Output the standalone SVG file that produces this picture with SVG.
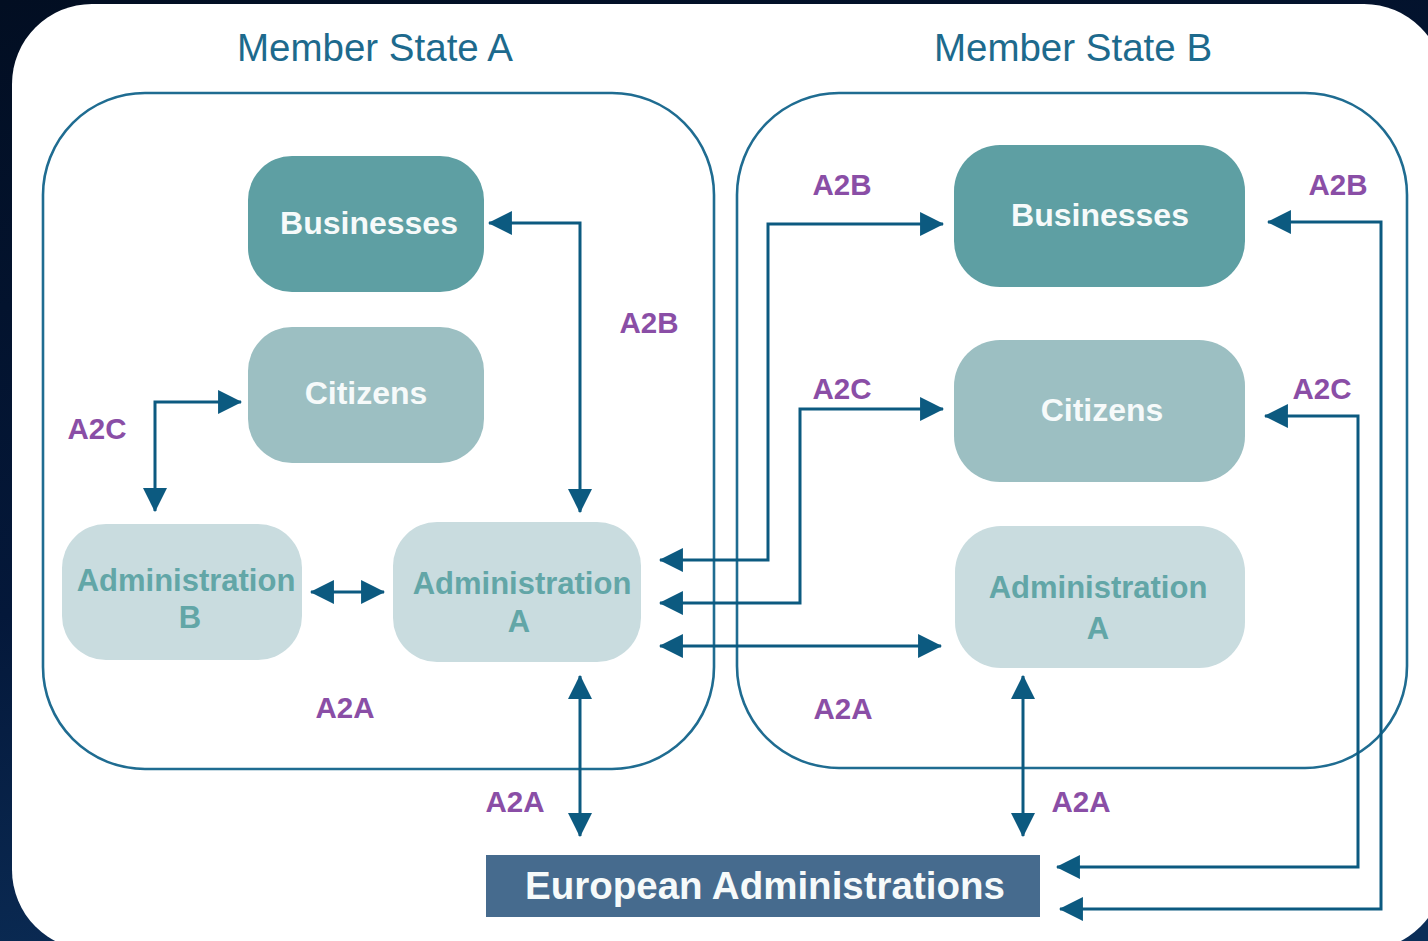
<svg xmlns="http://www.w3.org/2000/svg" width="1428" height="941" viewBox="0 0 1428 941">
<defs>
<linearGradient id="bg" x1="0" y1="0" x2="0.3" y2="1">
<stop offset="0" stop-color="#020e22"/>
<stop offset="0.6" stop-color="#04183a"/>
<stop offset="1" stop-color="#0b2d57"/>
</linearGradient>
<marker id="ah" markerUnits="userSpaceOnUse" markerWidth="24" markerHeight="24" viewBox="0 0 22 22" refX="21" refY="11" orient="auto-start-reverse">
<path d="M0,0 L22,11 L0,22 z" fill="#0c5a80"/>
</marker>
<style>
.state{fill:none;stroke:#1f6c91;stroke-width:2.6}
.title{font-family:"Liberation Sans",Arial,sans-serif;font-size:38.5px;fill:#1d6a8d;text-anchor:middle}
.node{font-family:"Liberation Sans",Arial,sans-serif;font-weight:bold;text-anchor:middle}
.wt{fill:#f6fafa;font-size:32px}
.at{fill:#62a6a7;font-size:31px}
.biz{fill:#5e9fa3}
.cit{fill:#9cbfc2}
.adm{fill:#c9dcdf}
.lbl{font-family:"Liberation Sans",Arial,sans-serif;font-weight:bold;font-size:29.5px;fill:#8a4ea6;text-anchor:middle}
.con{fill:none;stroke:#0c5a80;stroke-width:3;marker-start:url(#ah);marker-end:url(#ah)}
</style>
</defs>
<rect width="1428" height="941" fill="url(#bg)"/>
<rect x="12" y="4" width="1432" height="946" rx="80" fill="#ffffff"/>

<g id="member-state-a">
<rect class="state" x="43" y="93" width="671" height="676" rx="102"/>
<text class="title" x="375" y="61">Member State A</text>
</g>
<g id="member-state-b">
<rect class="state" x="737" y="93" width="670" height="675" rx="102"/>
<text class="title" x="1073" y="61">Member State B</text>
</g>

<g id="businesses-a">
<rect class="biz" x="248" y="156" width="236" height="136" rx="44"/>
<text class="node wt" x="369" y="234">Businesses</text>
</g>
<g id="citizens-a">
<rect class="cit" x="248" y="327" width="236" height="136" rx="44"/>
<text class="node wt" x="366" y="404">Citizens</text>
</g>
<g id="administration-b">
<rect class="adm" x="62" y="524" width="240" height="136" rx="44"/>
<text class="node at" x="186" y="591">Administration</text>
<text class="node at" x="190" y="628">B</text>
</g>
<g id="administration-a-left">
<rect class="adm" x="393" y="522" width="248" height="140" rx="44"/>
<text class="node at" x="522" y="594">Administration</text>
<text class="node at" x="519" y="632">A</text>
</g>
<g id="businesses-b">
<rect class="biz" x="954" y="145" width="291" height="142" rx="46"/>
<text class="node wt" x="1100" y="226">Businesses</text>
</g>
<g id="citizens-b">
<rect class="cit" x="954" y="340" width="291" height="142" rx="46"/>
<text class="node wt" x="1102" y="421">Citizens</text>
</g>
<g id="administration-a-right">
<rect class="adm" x="955" y="526" width="290" height="142" rx="46"/>
<text class="node at" x="1098" y="598">Administration</text>
<text class="node at" x="1098" y="639">A</text>
</g>
<g id="european-administrations">
<rect x="486" y="855" width="554" height="62" fill="#466b8e"/>
<text class="node" x="765" y="899" font-size="38.5" fill="#f6fafa">European Administrations</text>
</g>

<g id="connectors">
<path class="con" d="M580,512 V223 H489"/>
<path class="con" d="M155,511 V402 H241"/>
<path class="con" d="M311,592 H384"/>
<path class="con" d="M580,676 V836"/>
<path class="con" d="M660,560 H768 V224 H943"/>
<path class="con" d="M660,603 H800 V409 H943"/>
<path class="con" d="M660,646 H941"/>
<path class="con" d="M1023,676 V836"/>
<path class="con" d="M1057,867 H1358 V416 H1265"/>
<path class="con" d="M1060,909 H1381 V222 H1268"/>
</g>

<g id="labels">
<text class="lbl" x="649" y="333">A2B</text>
<text class="lbl" x="97" y="439">A2C</text>
<text class="lbl" x="345" y="718">A2A</text>
<text class="lbl" x="515" y="812">A2A</text>
<text class="lbl" x="842" y="195">A2B</text>
<text class="lbl" x="842" y="399">A2C</text>
<text class="lbl" x="843" y="719">A2A</text>
<text class="lbl" x="1338" y="195">A2B</text>
<text class="lbl" x="1322" y="399">A2C</text>
<text class="lbl" x="1081" y="812">A2A</text>
</g>
</svg>
